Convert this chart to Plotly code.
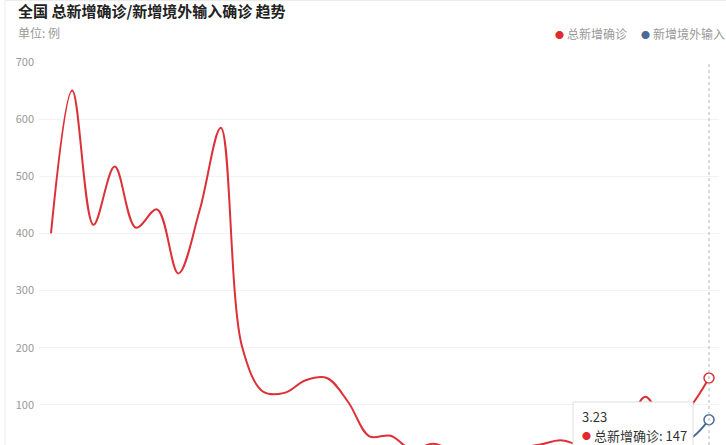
import plotly.graph_objects as go

# dates (月.日) and daily counts
dates = ["2.21", "2.22", "2.23", "2.24", "2.25", "2.26", "2.27", "2.28", "2.29",
         "3.1", "3.2", "3.3", "3.4", "3.5", "3.6", "3.7", "3.8", "3.9", "3.10",
         "3.11", "3.12", "3.13", "3.14", "3.15", "3.16", "3.17", "3.18", "3.19",
         "3.20", "3.21", "3.22", "3.23"]
total_new = [400, 650, 415, 517, 410, 442, 330, 440, 585,
             202, 123, 121, 143, 147, 105, 45, 46, 22, 32,
             20, 18, 20, 25, 30, 38, 30, 40, 55,
             114, 65, 92, 147]
imported_new = [0, 0, 0, 0, 0, 0, 0, 0, 0,
                0, 0, 1, 0, 2, 3, 4, 3, 2, 6,
                6, 6, 10, 16, 12, 20, 12, 21, 39,
                41, 45, 39, 74]

red = "#dc3139"
blue = "#4a6a98"
grey = "#999999"
font = "Noto Sans CJK SC"

fig = go.Figure()
fig.add_trace(go.Scatter(x=dates, y=total_new, mode="lines", name="总新增确诊",
                         line=dict(color=red, width=2, shape="spline", smoothing=1)))
fig.add_trace(go.Scatter(x=dates, y=imported_new, mode="lines", name="新增境外输入",
                         line=dict(color=blue, width=2, shape="spline", smoothing=1)))

# hovered point markers at the last date
fig.add_trace(go.Scatter(x=[dates[-1]], y=[total_new[-1]], mode="markers", showlegend=False,
                         marker=dict(size=10, color="white", line=dict(color=red, width=1.5))))
fig.add_trace(go.Scatter(x=[dates[-1]], y=[imported_new[-1]], mode="markers", showlegend=False,
                         marker=dict(size=10, color="white", line=dict(color=blue, width=1.5))))

# pixel -> paper (plot area: x 39..719, y 62..445)
def px(x):
    return (x - 39) / 680

def py(y):
    return (445 - y) / 383

last = len(dates) - 1

shapes = [
    # card border
    dict(type="rect", xref="paper", yref="paper", x0=px(5), x1=px(900), y0=py(600), y1=py(0.5),
         line=dict(color="#ececec", width=1), layer="below"),
    # hover guide line
    dict(type="line", xref="x", yref="paper", x0=last, x1=last, y0=0, y1=1,
         line=dict(color="#b5b5b5", width=1, dash="3px,3px")),
    # tooltip box
    dict(type="rect", xref="paper", yref="paper", x0=px(573), x1=px(693), y0=py(480), y1=py(402),
         line=dict(color="#dddddd", width=1), fillcolor="white", layer="above"),
]

annotations = [
    dict(text="<b>全国 总新增确诊/新增境外输入确诊 趋势</b>", x=px(16), y=py(11),
         font=dict(size=15, color="#222222")),
    dict(text="单位: 例", x=px(16), y=py(33), font=dict(size=12, color=grey)),
    # legend
    dict(text="●", x=px(553), y=py(34), font=dict(size=9, color="#e02a2f")),
    dict(text="总新增确诊", x=px(565), y=py(33.5), font=dict(size=12, color=grey)),
    dict(text="●", x=px(639), y=py(34), font=dict(size=9, color=blue)),
    dict(text="新增境外输入", x=px(650.5), y=py(33.5), font=dict(size=12, color=grey)),
    # tooltip
    dict(text=dates[-1], x=px(580), y=py(416.7), font=dict(size=13, color="#333333")),
    dict(text="●", x=px(579.5), y=py(435.5), font=dict(size=9, color="#e02a2f")),
    dict(text="总新增确诊: %d" % total_new[-1], x=px(592), y=py(435), font=dict(size=13, color="#333333")),
]
for a in annotations:
    a.update(xref="paper", yref="paper", xanchor="left", yanchor="middle", showarrow=False)

fig.update_layout(
    width=726, height=445,
    margin=dict(l=39, r=7, t=62, b=0),
    paper_bgcolor="white", plot_bgcolor="white",
    font=dict(family=font, color=grey),
    showlegend=False,
    shapes=shapes,
    annotations=annotations,
    xaxis=dict(type="category", range=[-0.565, last + 0.471], showgrid=False, zeroline=False,
               showline=False, showticklabels=False, fixedrange=True),
    yaxis=dict(range=[29.75, 700], tickvals=[100, 200, 300, 400, 500, 600, 700],
               showgrid=True, gridcolor="#f2f2f2", gridwidth=1, zeroline=False,
               showline=False, ticks="", ticklabelstandoff=4,
               tickfont=dict(size=11, color=grey), automargin=False),
)

# drop the page's default body margin so the figure sits at the window's corner
fig.write_html("out.html", config={"displayModeBar": False},
               post_script="document.body.style.margin='0';")
